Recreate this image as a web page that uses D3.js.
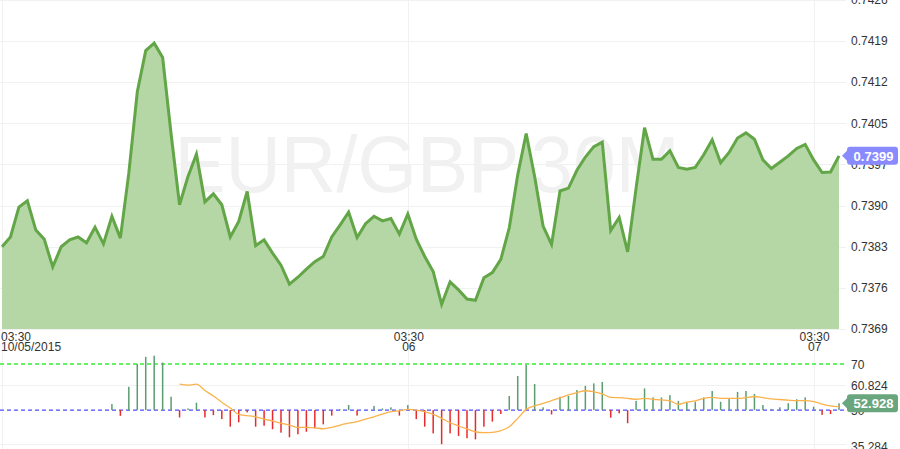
<!DOCTYPE html>
<html><head><meta charset="utf-8">
<script src="https://cdn.jsdelivr.net/npm/d3@7"></script>
<style>html,body{margin:0;padding:0;background:#fff;overflow:hidden}svg{display:block}</style>
</head><body><svg id="c" width="900" height="449"></svg>
<script>
const symbolLabel = "EUR/GBP,30M";
const startTime = "2015-10-05T03:30:00Z";
const intervalMinutes = 30;

const closePrices = [
  0.73831,0.73848,0.73900,0.73911,0.73860,0.73844,0.73796,0.73831,0.73843,0.73848,
  0.73838,0.73865,0.73836,0.73884,0.73846,0.73959,0.74100,0.74172,0.74185,0.74160,
  0.74027,0.73904,0.73953,0.73992,0.73909,0.73923,0.73904,0.73848,0.73875,0.73927,
  0.73833,0.73843,0.73820,0.73799,0.73766,0.73778,0.73792,0.73805,0.73814,0.73848,
  0.73869,0.73891,0.73847,0.73871,0.73884,0.73876,0.73880,0.73853,0.73888,0.73844,
  0.73814,0.73788,0.73731,0.73770,0.73756,0.73740,0.73738,0.73777,0.73786,0.73809,
  0.73864,0.73956,0.74028,0.73953,0.73867,0.73835,0.73928,0.73933,0.73964,0.73987,
  0.74005,0.74013,0.73859,0.73882,0.73822,0.73933,0.74038,0.73983,0.73983,0.73998,
  0.73969,0.73966,0.73969,0.73991,0.74017,0.73977,0.73995,0.74020,0.74029,0.74018,
  0.73982,0.73967,0.73978,0.73989,0.74002,0.74009,0.73982,0.73960,0.73961,0.73989
];

const rsiStartIndex = 13;
const rsiValues = [
  52.6,47.5,60.1,70.0,73.1,73.6,70.6,55.8,46.8,50.7,
  53.2,46.8,47.8,46.1,42.8,44.7,49.0,42.8,43.2,41.7,
  40.2,38.2,39.5,40.6,42.1,43.8,47.6,50.3,52.2,47.6,
  50.2,51.8,50.7,51.2,47.6,52.2,46.1,42.8,39.9,35.2,
  39.9,38.8,37.8,37.3,42.8,45.0,48.3,56.1,64.8,69.6,
  61.3,51.2,48.1,55.8,56.1,58.7,60.5,61.6,62.2,46.7,
  48.6,44.3,54.0,59.4,55.5,55.5,56.5,54.0,53.2,53.6,
  55.5,58.3,53.6,54.8,57.9,58.3,57.0,52.2,50.5,51.2,
  53.0,54.7,55.5,51.5,47.9,48.3,52.928
];

const signalStartIndex = 21;
const signalValues = [
  61.3,60.8,61.3,58.5,56.1,53.4,50.9,48.1,47.6,47.1,
  46.1,45.3,44.3,43.5,42.5,42.5,42.3,41.9,42.5,43.5,
  44.3,45.0,46.1,47.1,48.3,49.3,49.7,50.3,50.0,49.3,
  48.1,46.4,44.5,43.1,41.8,40.6,40.2,40.3,41.1,42.8,
  46.4,50.3,51.8,52.9,54.1,55.3,56.6,57.6,58.4,57.9,
  57.0,55.5,55.4,55.1,54.7,55.1,54.7,54.4,54.0,52.5,
  53.4,54.0,55.1,55.5,55.1,55.1,55.1,55.4,55.9,55.4,
  54.9,54.6,54.3,54.1,54.1,53.7,52.6,51.8,51.5
];

const priceDomain = [0.73688, 0.74260];
const priceTickLabels = ["0.7369","0.7376","0.7383","0.7390","0.7397","0.7405","0.7412","0.7419","0.7426"];
const rsiTickValues = [70, 60.824, 50, 35.284];
const rsiTickLabels = ["70","60.824","50","35.284"];
const rsiGridValues = [60.824, 35.284];
const overbought = 70, midline = 50;
const xTickDates = ["2015-10-05T03:30:00Z","2015-10-06T03:30:00Z","2015-10-07T03:30:00Z"];
const xTickTop = ["03:30","03:30","03:30"];
const xTickBottom = ["10/05/2015","06","07"];

const t0 = new Date(startTime).getTime();
const timeAt = i => new Date(t0 + i * intervalMinutes * 60000);
const priceData = closePrices.map((v, i) => ({t: timeAt(i), v}));
const rsiData = rsiValues.map((v, k) => ({t: timeAt(rsiStartIndex + k), v}));
const sigData = signalValues.map((v, k) => ({t: timeAt(signalStartIndex + k), v}));

const svg = d3.select("#c");
const font = "'Liberation Sans', Arial, sans-serif";
const plotRight = 846;
const mainBottom = 329;

const x = d3.scaleTime().domain([timeAt(0), timeAt(closePrices.length - 1)]).range([2, 839]);
const y = d3.scaleLinear().domain(priceDomain).range([mainBottom, 0]);
const yr = d3.scaleLinear().domain([35.284, 70]).range([444, 364]);

const priceTicks = priceTickLabels.map((l, i) => priceDomain[0] + i * (priceDomain[1] - priceDomain[0]) / (priceTickLabels.length - 1));

// grid
const grid = svg.append("g").attr("stroke", "#f1f1f1").attr("stroke-width", 1);
grid.selectAll("line.h").data(priceTicks).join("line")
  .attr("x1", 0).attr("x2", plotRight)
  .attr("y1", d => Math.round(y(d)) + 0.5).attr("y2", d => Math.round(y(d)) + 0.5);
grid.selectAll("line.r").data(rsiGridValues).join("line")
  .attr("x1", 0).attr("x2", plotRight)
  .attr("y1", d => Math.round(yr(d)) + 0.5).attr("y2", d => Math.round(yr(d)) + 0.5);
grid.selectAll("line.v").data(xTickDates).join("line")
  .attr("x1", d => Math.round(x(new Date(d))) + 0.5).attr("x2", d => Math.round(x(new Date(d))) + 0.5)
  .attr("y1", 0).attr("y2", 449);

// watermark
svg.append("text").attr("x", 427).attr("y", 192).attr("text-anchor", "middle")
  .attr("font-family", font).attr("font-size", 80).attr("fill", "#f1f1f1")
  .attr("textLength", 505).attr("lengthAdjust", "spacingAndGlyphs")
  .text(symbolLabel);

// area + line
svg.append("path").datum(priceData)
  .attr("d", d3.area().x(d => x(d.t)).y0(mainBottom).y1(d => y(d.v)))
  .attr("fill", "#b5d6a5");
svg.append("path").datum(priceData)
  .attr("d", d3.line().x(d => x(d.t)).y(d => y(d.v)))
  .attr("fill", "none").attr("stroke", "#63a647").attr("stroke-width", 3).attr("stroke-linejoin", "miter");

// right axis labels (price)
svg.append("g").selectAll("text").data(priceTicks).join("text")
  .attr("x", 851).attr("y", d => y(d)).attr("dy", "0.35em")
  .attr("font-family", font).attr("font-size", 12).attr("fill", "#333")
  .text((d, i) => priceTickLabels[i]);

// x axis labels
const xl = svg.append("g").attr("font-family", font).attr("font-size", 12).attr("fill", "#333");
xTickDates.forEach((d, i) => {
  const px = x(new Date(d));
  const anchor = i === 0 ? "start" : "middle";
  const tx = i === 0 ? px - 1 : px + 1;
  xl.append("text").attr("x", tx).attr("y", 341).attr("text-anchor", anchor).text(xTickTop[i]);
  xl.append("text").attr("x", tx).attr("y", 351).attr("text-anchor", anchor).text(xTickBottom[i]);
});

// RSI panel dashed lines
svg.append("line").attr("x1", 0).attr("x2", plotRight)
  .attr("y1", yr(overbought)).attr("y2", yr(overbought))
  .attr("stroke", "#33ee33").attr("stroke-width", 1.3).attr("stroke-dasharray", "4,3");
svg.append("line").attr("x1", 0).attr("x2", plotRight)
  .attr("y1", yr(midline)).attr("y2", yr(midline))
  .attr("stroke", "#4d4dff").attr("stroke-width", 1.3).attr("stroke-dasharray", "4,3");

// RSI bars
svg.append("g").selectAll("rect").data(rsiData).join("rect")
  .attr("x", d => x(d.t) - 0.75).attr("width", 1.5)
  .attr("y", d => Math.min(yr(d.v), yr(midline)))
  .attr("height", d => Math.abs(yr(d.v) - yr(midline)))
  .attr("fill", d => d.v >= midline ? "#5a9e6f" : "#e52b2b");

// signal line
svg.append("path").datum(sigData)
  .attr("d", d3.line().x(d => x(d.t)).y(d => yr(d.v)).curve(d3.curveMonotoneX))
  .attr("fill", "none").attr("stroke", "#fbb24a").attr("stroke-width", 1.3);

// RSI axis labels
svg.append("g").selectAll("text").data(rsiTickValues).join("text")
  .attr("x", 851).attr("y", d => yr(d) + (d === 35.284 ? 2.5 : 1)).attr("dy", "0.35em")
  .attr("font-family", font).attr("font-size", 12).attr("fill", "#333")
  .text((d, i) => rsiTickLabels[i]);

// tags
function tag(cy, color, label) {
  const g = svg.append("g");
  const l = 847, r = 898, h = 18, top = cy - h / 2;
  g.append("path").attr("d", `M${l - 5},${cy} L${l},${cy - 5} L${l},${cy + 5} Z`).attr("fill", color);
  g.append("rect").attr("x", l).attr("y", top).attr("width", r - l).attr("height", h).attr("rx", 3).attr("fill", color);
  g.append("text").attr("x", (l + r) / 2 + 1).attr("y", cy).attr("dy", "0.36em").attr("text-anchor", "middle")
    .attr("font-family", font).attr("font-size", 13).attr("font-weight", "bold").attr("fill", "#fff").text(label);
}
const lastPrice = closePrices[closePrices.length - 1];
const lastRsi = rsiValues[rsiValues.length - 1];
tag(y(lastPrice), "#8a8aff", d3.format(".4f")(lastPrice));
tag(yr(lastRsi), "#6aa67d", d3.format(".3f")(lastRsi));
</script></body></html>
